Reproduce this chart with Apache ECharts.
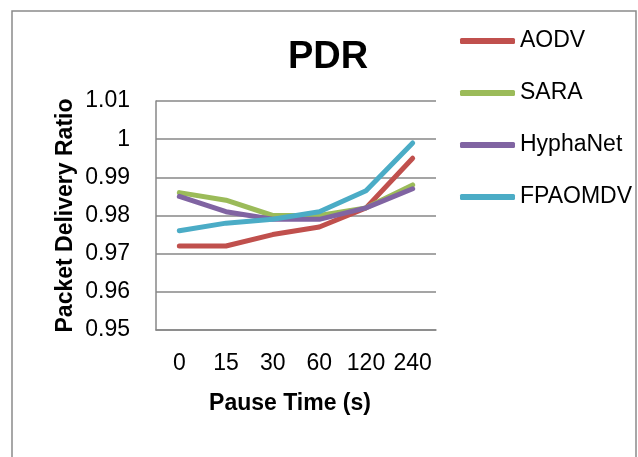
<!DOCTYPE html>
<html>
<head>
<meta charset="utf-8">
<title>PDR</title>
<script src="https://cdn.jsdelivr.net/npm/echarts@6/dist/echarts.min.js"></script>
<style>
  html, body { margin: 0; padding: 0; background: #ffffff; }
  #chart { width: 638px; height: 457px; }
</style>
</head>
<body>
<div id="chart"></div>
<script>
// Pause time categories (seconds)
const pauseTimes = ['0', '15', '30', '60', '120', '240'];

// Packet delivery ratio per protocol
const aodv     = [0.972, 0.972, 0.975, 0.977, 0.982, 0.995];
const sara     = [0.986, 0.984, 0.980, 0.980, 0.982, 0.988];
const hyphaNet = [0.985, 0.981, 0.979, 0.979, 0.982, 0.987];
const fpaomdv  = [0.976, 0.978, 0.979, 0.981, 0.9865, 0.999];

const seriesNames  = ['AODV', 'SARA', 'HyphaNet', 'FPAOMDV'];
const seriesValues = [aodv, sara, hyphaNet, fpaomdv];
const seriesColors = ['#C0504D', '#9BBB59', '#8064A2', '#4BACC6'];

const FONT = '"Liberation Sans", Arial, sans-serif';
const GRID_GREY = '#878787';

const chart = echarts.init(document.getElementById('chart'), null, { renderer: 'canvas' });

chart.setOption({
  backgroundColor: '#ffffff',
  animation: false,
  graphic: [
    {
      type: 'rect',
      shape: { x: 12, y: 11, width: 624, height: 470 },
      style: { fill: 'none', stroke: '#8a8a8a', lineWidth: 1.5 },
      silent: true
    },
    {
      type: 'text',
      style: {
        x: 328, y: 58, text: 'PDR',
        align: 'center', verticalAlign: 'middle',
        fontFamily: FONT, fontWeight: 'bold', fontSize: 38, fill: '#000000'
      }
    }
  ],
  legend: {
    orient: 'vertical',
    left: 455,
    top: 21,
    itemWidth: 55,
    itemHeight: 6,
    itemGap: 22,
    icon: 'roundRect',
    textStyle: { fontFamily: FONT, fontSize: 23, color: '#000000', lineHeight: 30 },
    data: seriesNames
  },
  grid: { left: 156, right: 202, top: 101, bottom: 127, containLabel: false },
  xAxis: {
    type: 'category',
    data: pauseTimes,
    boundaryGap: true,
    name: 'Pause Time (s)',
    nameLocation: 'middle',
    nameGap: 62,
    nameTextStyle: {
      fontFamily: FONT, fontWeight: 'bold', fontSize: 23, color: '#000000',
      padding: [0, 12, 0, 0]
    },
    axisLine: { show: true, lineStyle: { color: GRID_GREY, width: 1.5 } },
    axisTick: { show: false },
    axisLabel: {
      fontFamily: FONT, fontSize: 23, color: '#000000', margin: 22,
      interval: 0, hideOverlap: false
    }
  },
  yAxis: {
    type: 'value',
    min: 0.95,
    max: 1.01,
    interval: 0.01,
    name: 'Packet Delivery Ratio',
    nameLocation: 'middle',
    nameRotate: 90,
    nameGap: 79,
    nameTextStyle: { fontFamily: FONT, fontWeight: 'bold', fontSize: 23, color: '#000000' },
    axisLine: { show: true, lineStyle: { color: GRID_GREY, width: 1.5 } },
    axisTick: { show: false },
    splitLine: { show: true, lineStyle: { color: GRID_GREY, width: 1.5 } },
    axisLabel: {
      fontFamily: FONT, fontSize: 23, color: '#000000', margin: 26,
      formatter: v => String(parseFloat(v.toFixed(2)))
    }
  },
  series: seriesNames.map((name, i) => ({
    name: name,
    type: 'line',
    data: seriesValues[i],
    showSymbol: false,
    symbol: 'none',
    color: seriesColors[i],
    lineStyle: { width: 5, color: seriesColors[i], cap: 'round', join: 'round' },
    z: 2 + (i === 3 ? 1 : 0)
  }))
});
</script>
</body>
</html>
